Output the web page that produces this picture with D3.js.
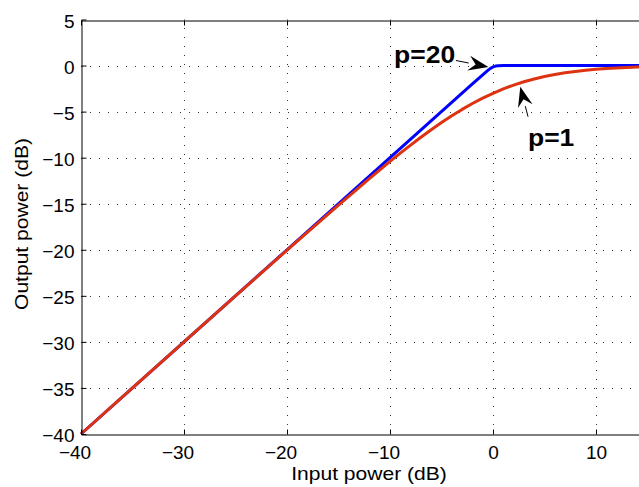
<!DOCTYPE html>
<html><head><meta charset="utf-8">
<script src="https://cdn.jsdelivr.net/npm/d3@7"></script>
<style>html,body{margin:0;padding:0;background:#fff;overflow:hidden}</style>
</head><body>
<svg id="c" width="639" height="487"></svg>
<script>
// ---- data ----
const xTicks = [-40, -30, -20, -10, 0, 10];
const yTicks = [5, 0, -5, -10, -15, -20, -25, -30, -35, -40];
const xLabel = "Input power (dB)";
const yLabel = "Output power (dB)";

// p = 20 curve (input dB, output dB)
const inP20  = [-40, -30, -20, -10, -2, -1, -0.5, -0.25, 0, 0.25, 0.5, 1, 5, 10, 15];
const outP20 = [-40, -30, -20, -10, -2, -1.0, -0.52, -0.31, -0.15, -0.06, -0.02, 0, 0, 0, 0];

// p = 1 curve
const inP1  = [-40, -35, -30, -25, -20, -15, -12, -10, -9, -8, -7, -6, -5, -4, -3, -2, -1, 0, 1, 2, 3, 4, 5, 6, 7, 8, 9, 10, 11, 12, 13, 14, 15];
const outP1 = [-40.0, -35.0, -30.0, -25.01, -20.04, -15.14, -12.27, -10.41, -9.51, -8.64, -7.79, -6.97, -6.19, -5.46, -4.76, -4.12, -3.54, -3.01, -2.54, -2.12, -1.76, -1.46, -1.19, -0.97, -0.79, -0.64, -0.51, -0.41, -0.33, -0.27, -0.21, -0.17, -0.14];

const annotations = [
  {text: "p=20", tx: -9.6, ty: 0.3, from: [-3.6, 0.55], to: [-0.45, -0.15]},
  {text: "p=1",  tx: 3.4, ty: -8.7, from: [3.4, -5.55], to: [2.65, -2.3]}
];

// ---- drawing ----
const svg = d3.select("#c");
const x = d3.scaleLinear().domain([-40, 15]).range([81, 647.5]);
const y = d3.scaleLinear().domain([-40, 5]).range([434, 19.5]);
const font = "'Liberation Sans', Arial, Helvetica, sans-serif";

const pLeft = x(-40), pRight = x(15), pTop = y(5), pBottom = y(-40);

// grid
const grid = svg.append("g").attr("stroke", "#333").attr("stroke-width", 1).attr("stroke-dasharray", "1 8");
grid.selectAll(".gx").data(xTicks.filter(t => t > -40)).enter().append("line")
  .attr("x1", d => Math.round(x(d)) + 0.5).attr("x2", d => Math.round(x(d)) + 0.5)
  .attr("y1", pBottom).attr("y2", pTop);
grid.selectAll(".gy").data(yTicks.filter(t => t > -40 && t < 5)).enter().append("line")
  .attr("y1", d => Math.round(y(d)) + 0.5).attr("y2", d => Math.round(y(d)) + 0.5)
  .attr("x1", pLeft).attr("x2", pRight);

// curves
const line = d3.line().x(d => x(d[0])).y(d => y(d[1]));
svg.append("path").datum(d3.zip(inP20, outP20)).attr("d", line)
  .attr("fill", "none").attr("stroke", "#0000ff").attr("stroke-width", 3).attr("stroke-linejoin", "round");
svg.append("path").datum(d3.zip(inP1, outP1)).attr("d", line)
  .attr("fill", "none").attr("stroke", "#dd3311").attr("stroke-width", 3).attr("stroke-linejoin", "round");

// axes (box with inward ticks)
const fmt = d => d < 0 ? "\u2212" + Math.abs(d) : d;
const gxb = svg.append("g").attr("transform", `translate(0,${Math.round(pBottom)+0.5})`)
  .call(d3.axisBottom(x).tickValues(xTicks).tickSizeInner(-5).tickSizeOuter(0).tickFormat(fmt));
const gxt = svg.append("g").attr("transform", `translate(0,${Math.round(pTop)+0.5})`)
  .call(d3.axisTop(x).tickValues(xTicks).tickSizeInner(-5).tickSizeOuter(0).tickFormat(""));
const gyl = svg.append("g").attr("transform", `translate(${Math.round(pLeft)+0.5},0)`)
  .call(d3.axisLeft(y).tickValues(yTicks).tickSizeInner(-5).tickSizeOuter(0).tickFormat(fmt));
const gyr = svg.append("g").attr("transform", `translate(${Math.round(pRight)+0.5},0)`)
  .call(d3.axisRight(y).tickValues(yTicks).tickSizeInner(-5).tickSizeOuter(0).tickFormat(""));

[gxb, gxt, gyl, gyr].forEach(g => {
  g.select(".domain").attr("stroke", "#000").attr("stroke-width", 1);
  g.selectAll(".tick line").attr("stroke", "#000");
  g.selectAll("text").attr("font-family", font).attr("font-size", 19).attr("fill", "#000");
});
gxb.selectAll(".tick text").attr("dy", null).attr("y", 24.5).attr("x", d => d < 0 ? -6.5 : 0);
gyl.selectAll(".tick text").attr("x", -7).attr("dy", "0.4em");

// axis labels (horizontally widened like the reference's font)
svg.append("text").attr("transform", `translate(369,480) scale(1.17,1)`).attr("text-anchor", "middle")
  .attr("font-family", font).attr("font-size", 18).text(xLabel);
svg.append("text").attr("transform", `translate(28,224) rotate(-90) scale(1.17,1)`)
  .attr("text-anchor", "middle").attr("font-family", font).attr("font-size", 18).text(yLabel);

// annotations
annotations.forEach(a => {
  svg.append("text").attr("transform", `translate(${x(a.tx)},${y(a.ty)}) scale(1.15,1)`)
    .attr("font-family", font).attr("font-weight", "bold").attr("font-size", 23).text(a.text);
  const x1 = x(a.from[0]), y1 = y(a.from[1]), x2 = x(a.to[0]), y2 = y(a.to[1]);
  const ang = Math.atan2(y2 - y1, x2 - x1);
  const L = 20, W = 7.5;
  const bx = x2 - L * Math.cos(ang), by = y2 - L * Math.sin(ang);
  svg.append("line").attr("x1", x1).attr("y1", y1).attr("x2", bx).attr("y2", by)
    .attr("stroke", "#000").attr("stroke-width", 1);
  const px = -Math.sin(ang), py = Math.cos(ang);
  const nx = x2 - 0.65 * L * Math.cos(ang), ny = y2 - 0.65 * L * Math.sin(ang);
  svg.append("path").attr("d",
    `M${x2},${y2} L${bx + W * px},${by + W * py} L${nx},${ny} L${bx - W * px},${by - W * py} Z`)
    .attr("fill", "#000");
});
</script>
</body></html>
